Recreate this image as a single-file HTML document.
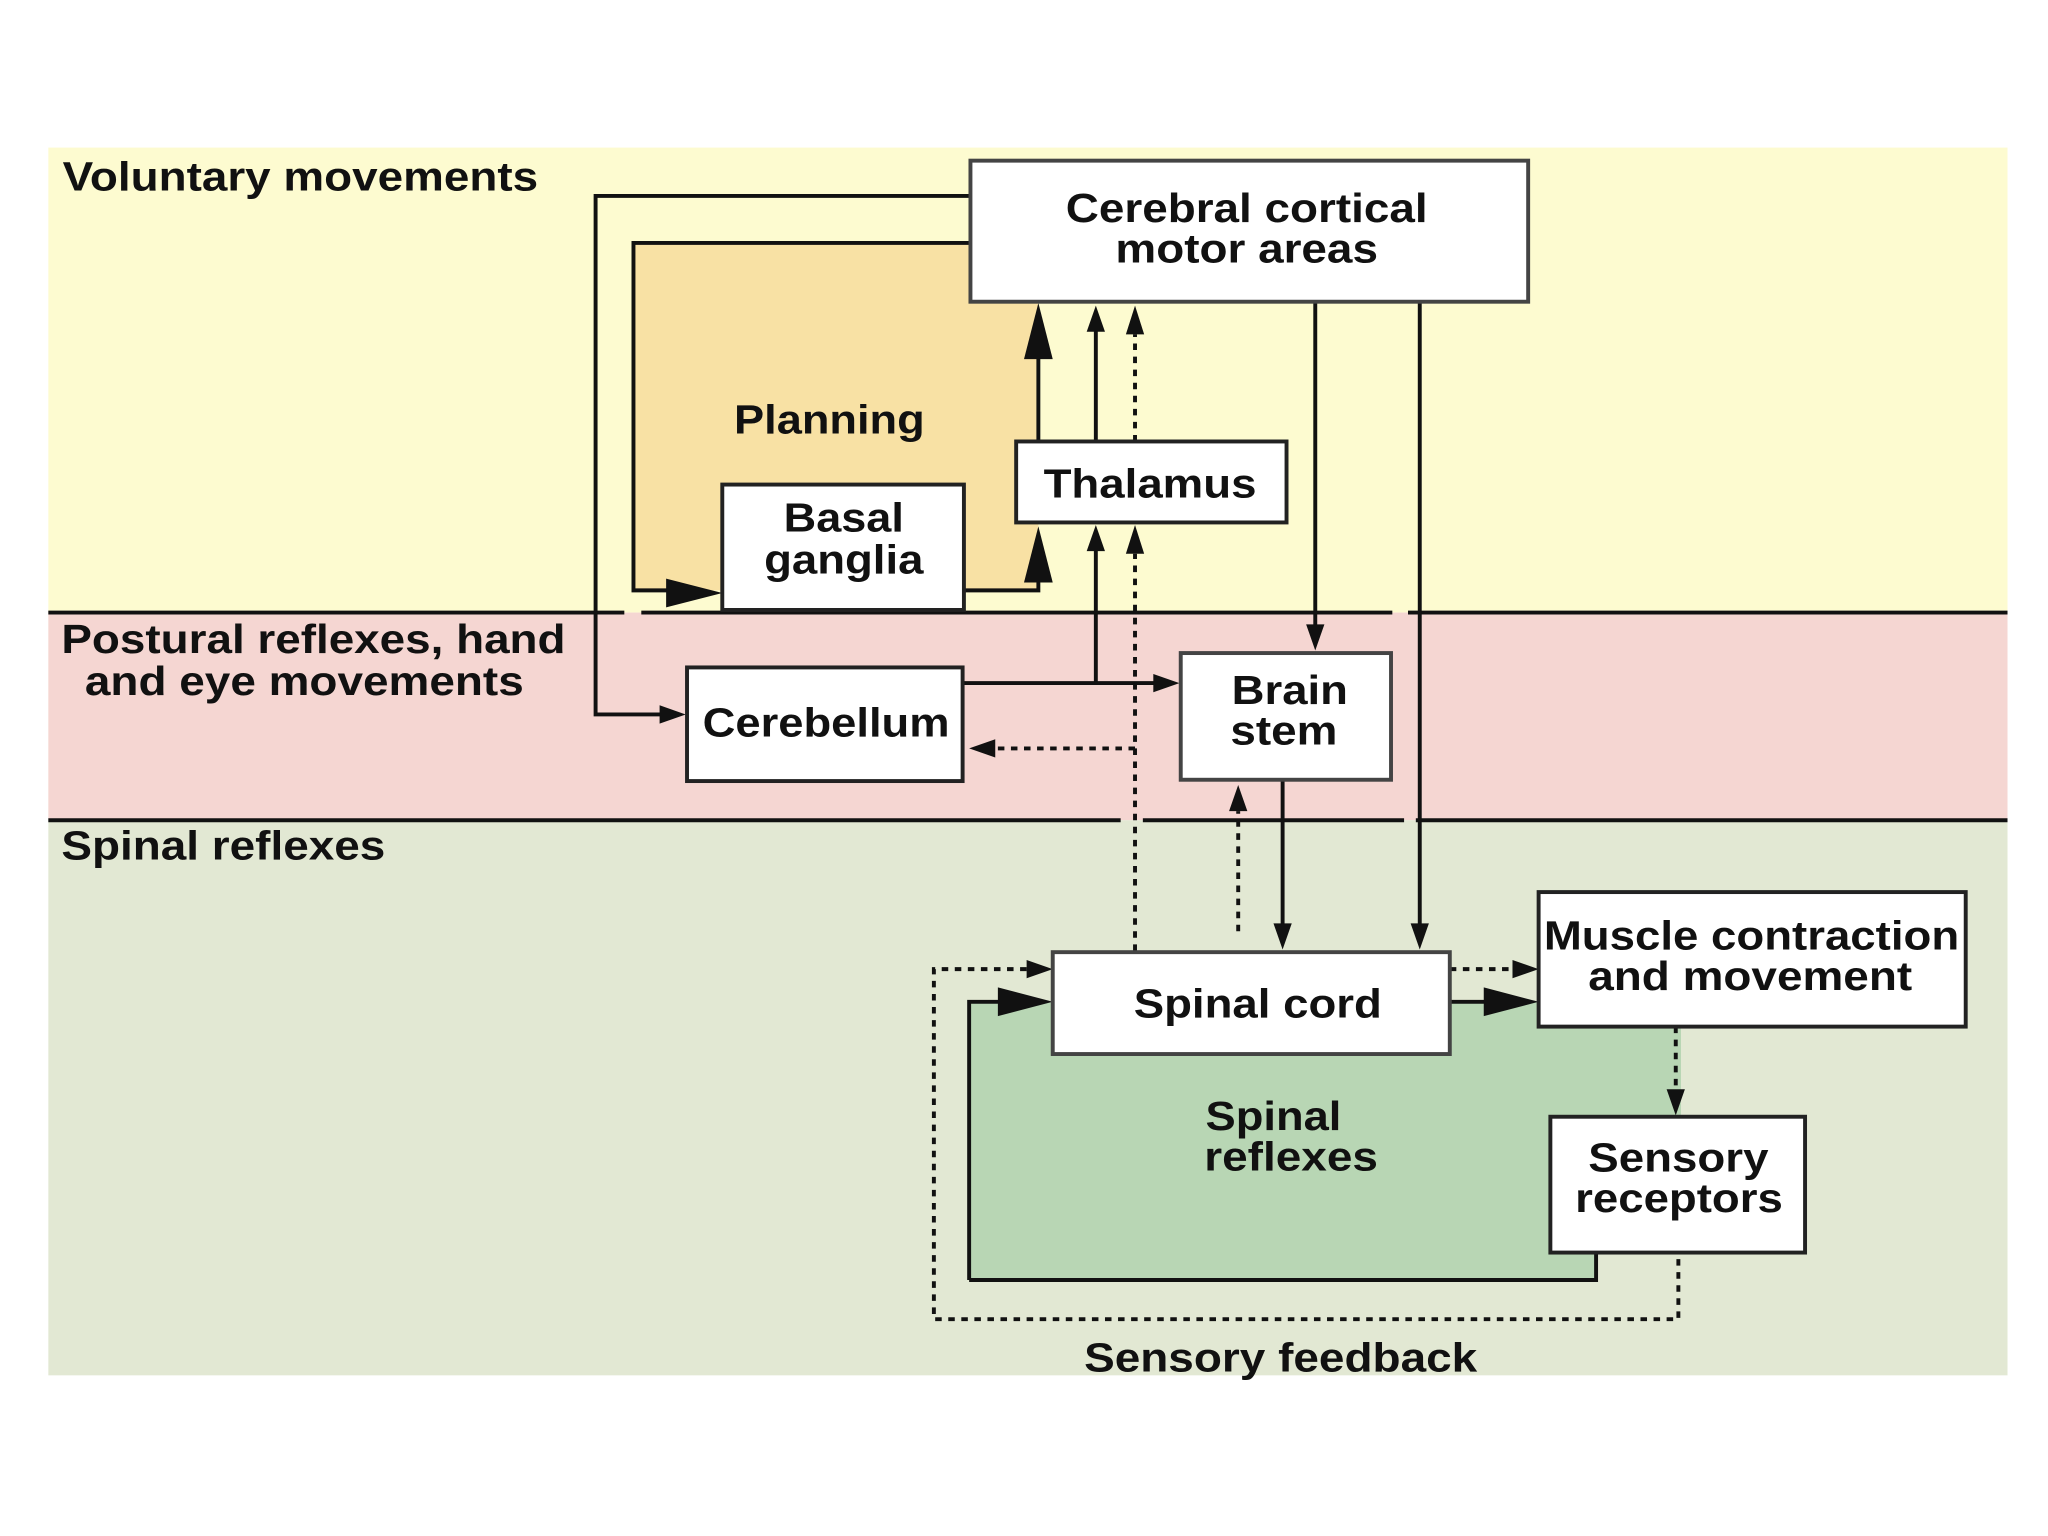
<!DOCTYPE html>
<html><head><meta charset="utf-8"><style>
html,body{margin:0;padding:0;background:#fff}
svg{display:block}
text{font-family:"Liberation Sans",sans-serif;font-weight:bold;fill:#111}
</style></head><body>
<svg width="2048" height="1536" viewBox="0 0 1568 1176" xmlns="http://www.w3.org/2000/svg">
<rect width="1568" height="1176" fill="#fff"/>
<rect x="37" y="113" width="1500" height="356" fill="#fdfbd0"/>
<rect x="37" y="469" width="1500" height="159" fill="#f5d6d2"/>
<rect x="37" y="628" width="1500" height="425" fill="#e2e8d3"/>
<rect x="485" y="186" width="310" height="266" fill="#f8e1a4"/>
<path d="M742 767H1287V959H1222V980H742z" fill="#b8d6b4"/>
<g stroke="#111" stroke-width="3" fill="none">
<path d="M37 469H478M491 469H1066M1078 469H1537"/>
<path d="M37 628H858M875 628H1075M1084 628H1537"/>
</g>
<g stroke="#111" stroke-width="3" fill="none">
<path d="M743 150H456V547H510"/>
<path d="M743 186H485V452H520"/>
<path d="M738 452H795V430"/>
<path d="M795 338V270"/>
<path d="M839 338V252"/>
<path d="M839 523V418"/>
<path d="M737 523H885"/>
<path d="M1007 231V482"/>
<path d="M1087 231V708"/>
<path d="M982 597V708"/>
<path d="M742 980V767H770"/>
<path d="M742 980H1222V959"/>
<path d="M1110 767H1140"/>
</g>
<g fill="#111">
<path d="M795 232L784 275H806z"/>
<path d="M795 403L784 446H806z"/>
<path d="M839 234L832 254H846z"/>
<path d="M839 402L832 422H846z"/>
<path d="M553 454L510 443V465z"/>
<path d="M525 547L505 540V554z"/>
<path d="M903 523L883 516V530z"/>
<path d="M1007 498L1000 478H1014z"/>
<path d="M1087 727L1080 707H1094z"/>
<path d="M982 727L975 707H989z"/>
<path d="M806 767L764 756V778z"/>
<path d="M1178 767L1136 756V778z"/>
<path d="M869 234L862 256H876z"/>
<path d="M869 402L862 424H876z"/>
<path d="M742 573L762 566V580z"/>
<path d="M948 601L941 621H955z"/>
<path d="M806 742L786 735V749z"/>
<path d="M1178 742L1158 735V749z"/>
<path d="M1283 854L1276 834H1290z"/>
</g>
<g stroke="#111" stroke-width="3" fill="none" stroke-dasharray="5 5">
<path d="M869 338V256"/>
<path d="M869 728V424"/>
<path d="M869 573H762"/>
<path d="M948 713V621"/>
<path d="M786 742H715V1010H1285V959"/>
<path d="M1110 742H1158"/>
<path d="M1283 786V834"/>
</g>
<g fill="#fff" stroke="#222" stroke-width="3">
<rect x="743" y="123" width="427" height="108" stroke="#444"/>
<rect x="778" y="338" width="207" height="62"/>
<rect x="553" y="371" width="185" height="96"/>
<rect x="526" y="511" width="211" height="87"/>
<rect x="904" y="500" width="161" height="97" stroke="#444"/>
<rect x="806" y="729" width="304" height="78" stroke="#444"/>
<rect x="1178" y="683" width="327" height="103"/>
<rect x="1187" y="855" width="195" height="104"/>
</g>
<g font-size="31">
<text x="48" y="146" textLength="364" lengthAdjust="spacingAndGlyphs">Voluntary movements</text>
<text x="47" y="500" textLength="386" lengthAdjust="spacingAndGlyphs">Postural reflexes, hand</text>
<text x="65" y="532" textLength="336" lengthAdjust="spacingAndGlyphs">and eye movements</text>
<text x="47" y="658" textLength="248" lengthAdjust="spacingAndGlyphs">Spinal reflexes</text>
<text x="562" y="332" textLength="146" lengthAdjust="spacingAndGlyphs">Planning</text>
<text x="816" y="170" textLength="277" lengthAdjust="spacingAndGlyphs">Cerebral cortical</text>
<text x="854" y="201" textLength="201" lengthAdjust="spacingAndGlyphs">motor areas</text>
<text x="799" y="381" textLength="163" lengthAdjust="spacingAndGlyphs">Thalamus</text>
<text x="600" y="407" textLength="92" lengthAdjust="spacingAndGlyphs">Basal</text>
<text x="585" y="439" textLength="122" lengthAdjust="spacingAndGlyphs">ganglia</text>
<text x="538" y="564" textLength="189" lengthAdjust="spacingAndGlyphs">Cerebellum</text>
<text x="943" y="539" textLength="89" lengthAdjust="spacingAndGlyphs">Brain</text>
<text x="942" y="570" textLength="82" lengthAdjust="spacingAndGlyphs">stem</text>
<text x="868" y="779" textLength="190" lengthAdjust="spacingAndGlyphs">Spinal cord</text>
<text x="1182" y="727" textLength="318" lengthAdjust="spacingAndGlyphs">Muscle contraction</text>
<text x="1216" y="758" textLength="248" lengthAdjust="spacingAndGlyphs">and movement</text>
<text x="1216" y="897" textLength="138" lengthAdjust="spacingAndGlyphs">Sensory</text>
<text x="1206" y="928" textLength="159" lengthAdjust="spacingAndGlyphs">receptors</text>
<text x="923" y="865" textLength="104" lengthAdjust="spacingAndGlyphs">Spinal</text>
<text x="922" y="896" textLength="133" lengthAdjust="spacingAndGlyphs">reflexes</text>
<text x="830" y="1050" textLength="301" lengthAdjust="spacingAndGlyphs">Sensory feedback</text>
</g>
</svg>
</body></html>
